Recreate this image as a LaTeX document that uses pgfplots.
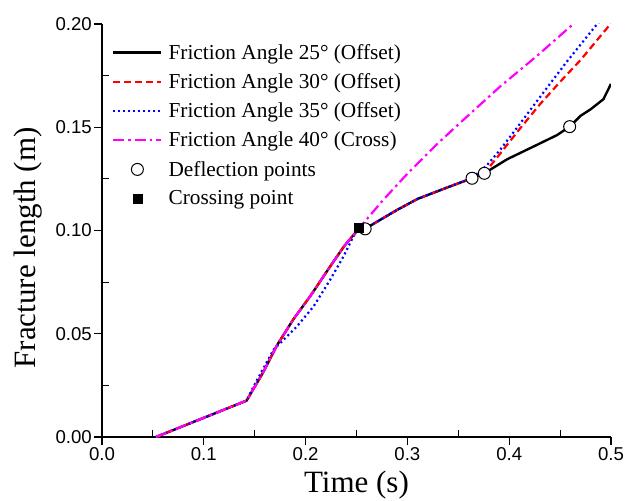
\documentclass[border=0pt]{standalone}
\usepackage{fontspec}
\setmainfont{Liberation Serif}
\newfontfamily\arial{Liberation Sans}
\usepackage{pgfplots}
\pgfplotsset{compat=1.18}
\definecolor{mag}{RGB}{255,0,255}
\pgfplotsset{myleg/.style={legend image code/.code={\draw[mark repeat=2,mark phase=2,##1] plot coordinates {(0pt,0pt) (24pt,0pt) (48pt,0pt)};}}}
\begin{document}
\begin{tikzpicture}
\useasboundingbox (-102pt,-64pt) rectangle (528pt,437pt);
\begin{axis}[
  at={(0pt,0pt)}, anchor=south west,
  width=509pt, height=413pt, scale only axis,
  xmin=0, xmax=0.5, ymin=0, ymax=0.2,
  axis x line=bottom, axis y line=left,
  axis line style={-, line width=1.2pt},
  xtick={0,0.1,0.2,0.3,0.4,0.5}, ytick={0,0.05,0.1,0.15,0.2},
  minor x tick num=1, minor y tick num=1,
  tick align=outside, major tick length=8pt, minor tick length=-7pt,
  tick style={line width=1.1pt, black},
  tick label style={font=\arial\fontsize{18.6}{20}\selectfont},
  xticklabel style={inner sep=2pt},
  yticklabel style={inner sep=2pt},
  /pgf/number format/assume math mode=true,
  xticklabel={\pgfmathprintnumber[fixed, fixed zerofill, precision=1]{\tick}},
  yticklabel={\pgfmathprintnumber[fixed, fixed zerofill, precision=2]{\tick}},
  scaled ticks=false,
  xlabel={Time (s)}, ylabel={Fracture length (m)},
  label style={font=\fontsize{31}{34}\selectfont},
  xlabel style={at={(axis description cs:0.5,-0.116)}, anchor=center},
  ylabel style={at={(axis description cs:-0.1454,0.458)}, anchor=center},
  legend style={at={(axis description cs:0,1)}, anchor=north west, draw=none, fill=none,
    font=\fontsize{21.3}{25}\selectfont, row sep=8.8pt, column sep=4pt, inner xsep=10pt, inner ysep=18pt},
  legend cell align=left,
  myleg,
  clip=true,
]
% 25 deg
\addplot[black, line width=2.4pt] coordinates {
(0.053,0) (0.142,0.0176) (0.158,0.031) (0.172,0.0445) (0.188,0.057) (0.205,0.0685) (0.224,0.0825) (0.238,0.0925) (0.2525,0.101)
(0.2585,0.1008) (0.27,0.1042) (0.29,0.110) (0.31,0.1153) (0.34,0.121) (0.3635,0.1253) (0.3756,0.1277) (0.398,0.1345) (0.4274,0.1415)
(0.447,0.1462) (0.4594,0.1503) (0.47,0.1555) (0.48,0.1587) (0.4926,0.1636) (0.5,0.171)};
\addlegendentry{Friction Angle 25° (Offset)}
% 30 deg
\addplot[red, line width=2.2pt, dash pattern=on 7pt off 4pt] coordinates {
(0.053,0) (0.142,0.0176) (0.158,0.031) (0.172,0.0445) (0.188,0.057) (0.205,0.0685) (0.224,0.0825) (0.238,0.0925) (0.2525,0.101)
(0.2585,0.1008) (0.27,0.1042) (0.29,0.110) (0.31,0.1153) (0.34,0.121) (0.3635,0.1253) (0.3756,0.1277) (0.39,0.1365) (0.41,0.149)
(0.43,0.161) (0.45,0.172) (0.47,0.1825) (0.4995,0.2) (0.505,0.203)};
\addlegendentry{Friction Angle 30° (Offset)}
% 35 deg
\addplot[blue, line width=2.2pt, dash pattern=on 2pt off 3pt] coordinates {
(0.053,0) (0.142,0.0176) (0.1488,0.0244) (0.1684,0.0422) (0.1914,0.0535) (0.2078,0.0632) (0.2242,0.0762) (0.2373,0.0875)
(0.247,0.0972) (0.2525,0.101) (0.2585,0.1008) (0.27,0.1042) (0.29,0.110) (0.31,0.1153) (0.34,0.121) (0.3635,0.1253) (0.378,0.1315)
(0.391,0.139) (0.408,0.150) (0.424,0.1605) (0.44,0.171) (0.457,0.182) (0.4864,0.2) (0.492,0.203)};
\addlegendentry{Friction Angle 35° (Offset)}
% 40 deg
\addplot[mag, line width=2.2pt, dash pattern=on 11pt off 4pt on 2.5pt off 4pt] coordinates {
(0.053,0) (0.142,0.0176) (0.158,0.031) (0.172,0.0445) (0.188,0.057) (0.205,0.0685) (0.224,0.0825) (0.238,0.0925) (0.2525,0.101)
(0.257,0.1037) (0.2766,0.115) (0.30,0.1275) (0.329,0.1418) (0.3586,0.1552) (0.3913,0.1698) (0.4274,0.1846) (0.4618,0.1995)};
\addlegendentry{Friction Angle 40° (Cross)}
% deflection points
\addplot[only marks, mark=*, mark size=6pt, mark options={fill=white, draw=black, line width=1pt}, myleg] coordinates {
(0.2585,0.1008) (0.3635,0.1253) (0.3756,0.1277) (0.4594,0.1503)};
\addlegendentry{Deflection points}
% crossing point
\addplot[only marks, mark=square*, mark size=4.5pt, mark options={fill=black, draw=black}, myleg] coordinates {
(0.2525,0.1012)};
\addlegendentry{Crossing point}
\end{axis}
\end{tikzpicture}
\end{document}
